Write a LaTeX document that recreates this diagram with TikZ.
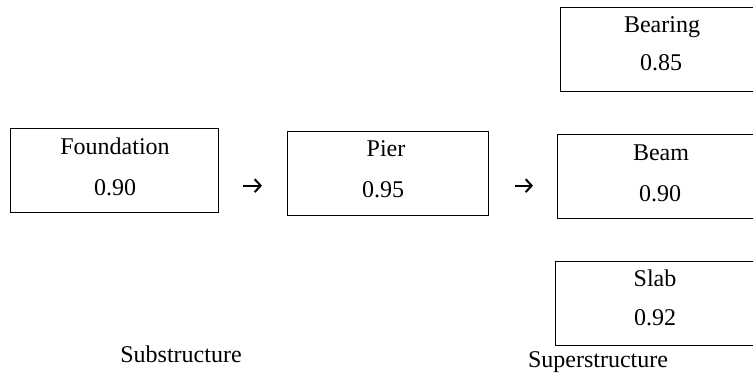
\documentclass[tikz,border=0pt]{standalone}
\usepackage{fontspec}
\setmainfont{Liberation Serif}
\usetikzlibrary{arrows.meta}
\begin{document}
\begin{tikzpicture}[x=1pt,y=-1pt,
  box/.style={draw, line width=1.3pt, minimum width=#1, minimum height=84, anchor=north west, inner sep=0pt},
  lbl/.style={font=\fontsize{24}{28}\selectfont, anchor=base, inner sep=0pt},
  conn/.style={-{Straight Barb[length=6pt,width=13pt,line width=2pt]}, line width=2pt}]
\useasboundingbox (0,0) rectangle (753,373);
\clip (0,0) rectangle (753,373);
% boxes
\node[box=208] (found) at (10,128) {};
\node[box=201] (pier) at (287,131) {};
\node[box=210] (bearing) at (560,7) {};
\node[box=212] (beam) at (557,134) {};
\node[box=214] (slab) at (555,261) {};
% texts
\node[lbl] (foundN) at (115,154) {Foundation};
\node[lbl] (foundV) at (115,195) {0.90};
\node[lbl] (pierN) at (386,156) {Pier};
\node[lbl] (pierV) at (383,197) {0.95};
\node[lbl] (bearingN) at (662,32) {Bearing};
\node[lbl] (bearingV) at (661,70) {0.85};
\node[lbl] (beamN) at (661,160) {Beam};
\node[lbl] (beamV) at (660,201) {0.90};
\node[lbl] (slabN) at (655,286) {Slab};
\node[lbl] (slabV) at (655,325) {0.92};
\node[lbl] (sub) at (181,362) {Substructure};
\node[lbl] (super) at (598,367) {Superstructure};
% arrows
\draw[conn, shorten <=24pt, shorten >=25pt] ([yshift=-15pt]found.east) -- ([yshift=-15pt]found.east -| pier.west);
\draw[conn, shorten <=26pt, shorten >=24pt] ([yshift=-15pt]found.east -| pier.east) -- ([yshift=-15pt]found.east -| beam.west);
\end{tikzpicture}
\end{document}
